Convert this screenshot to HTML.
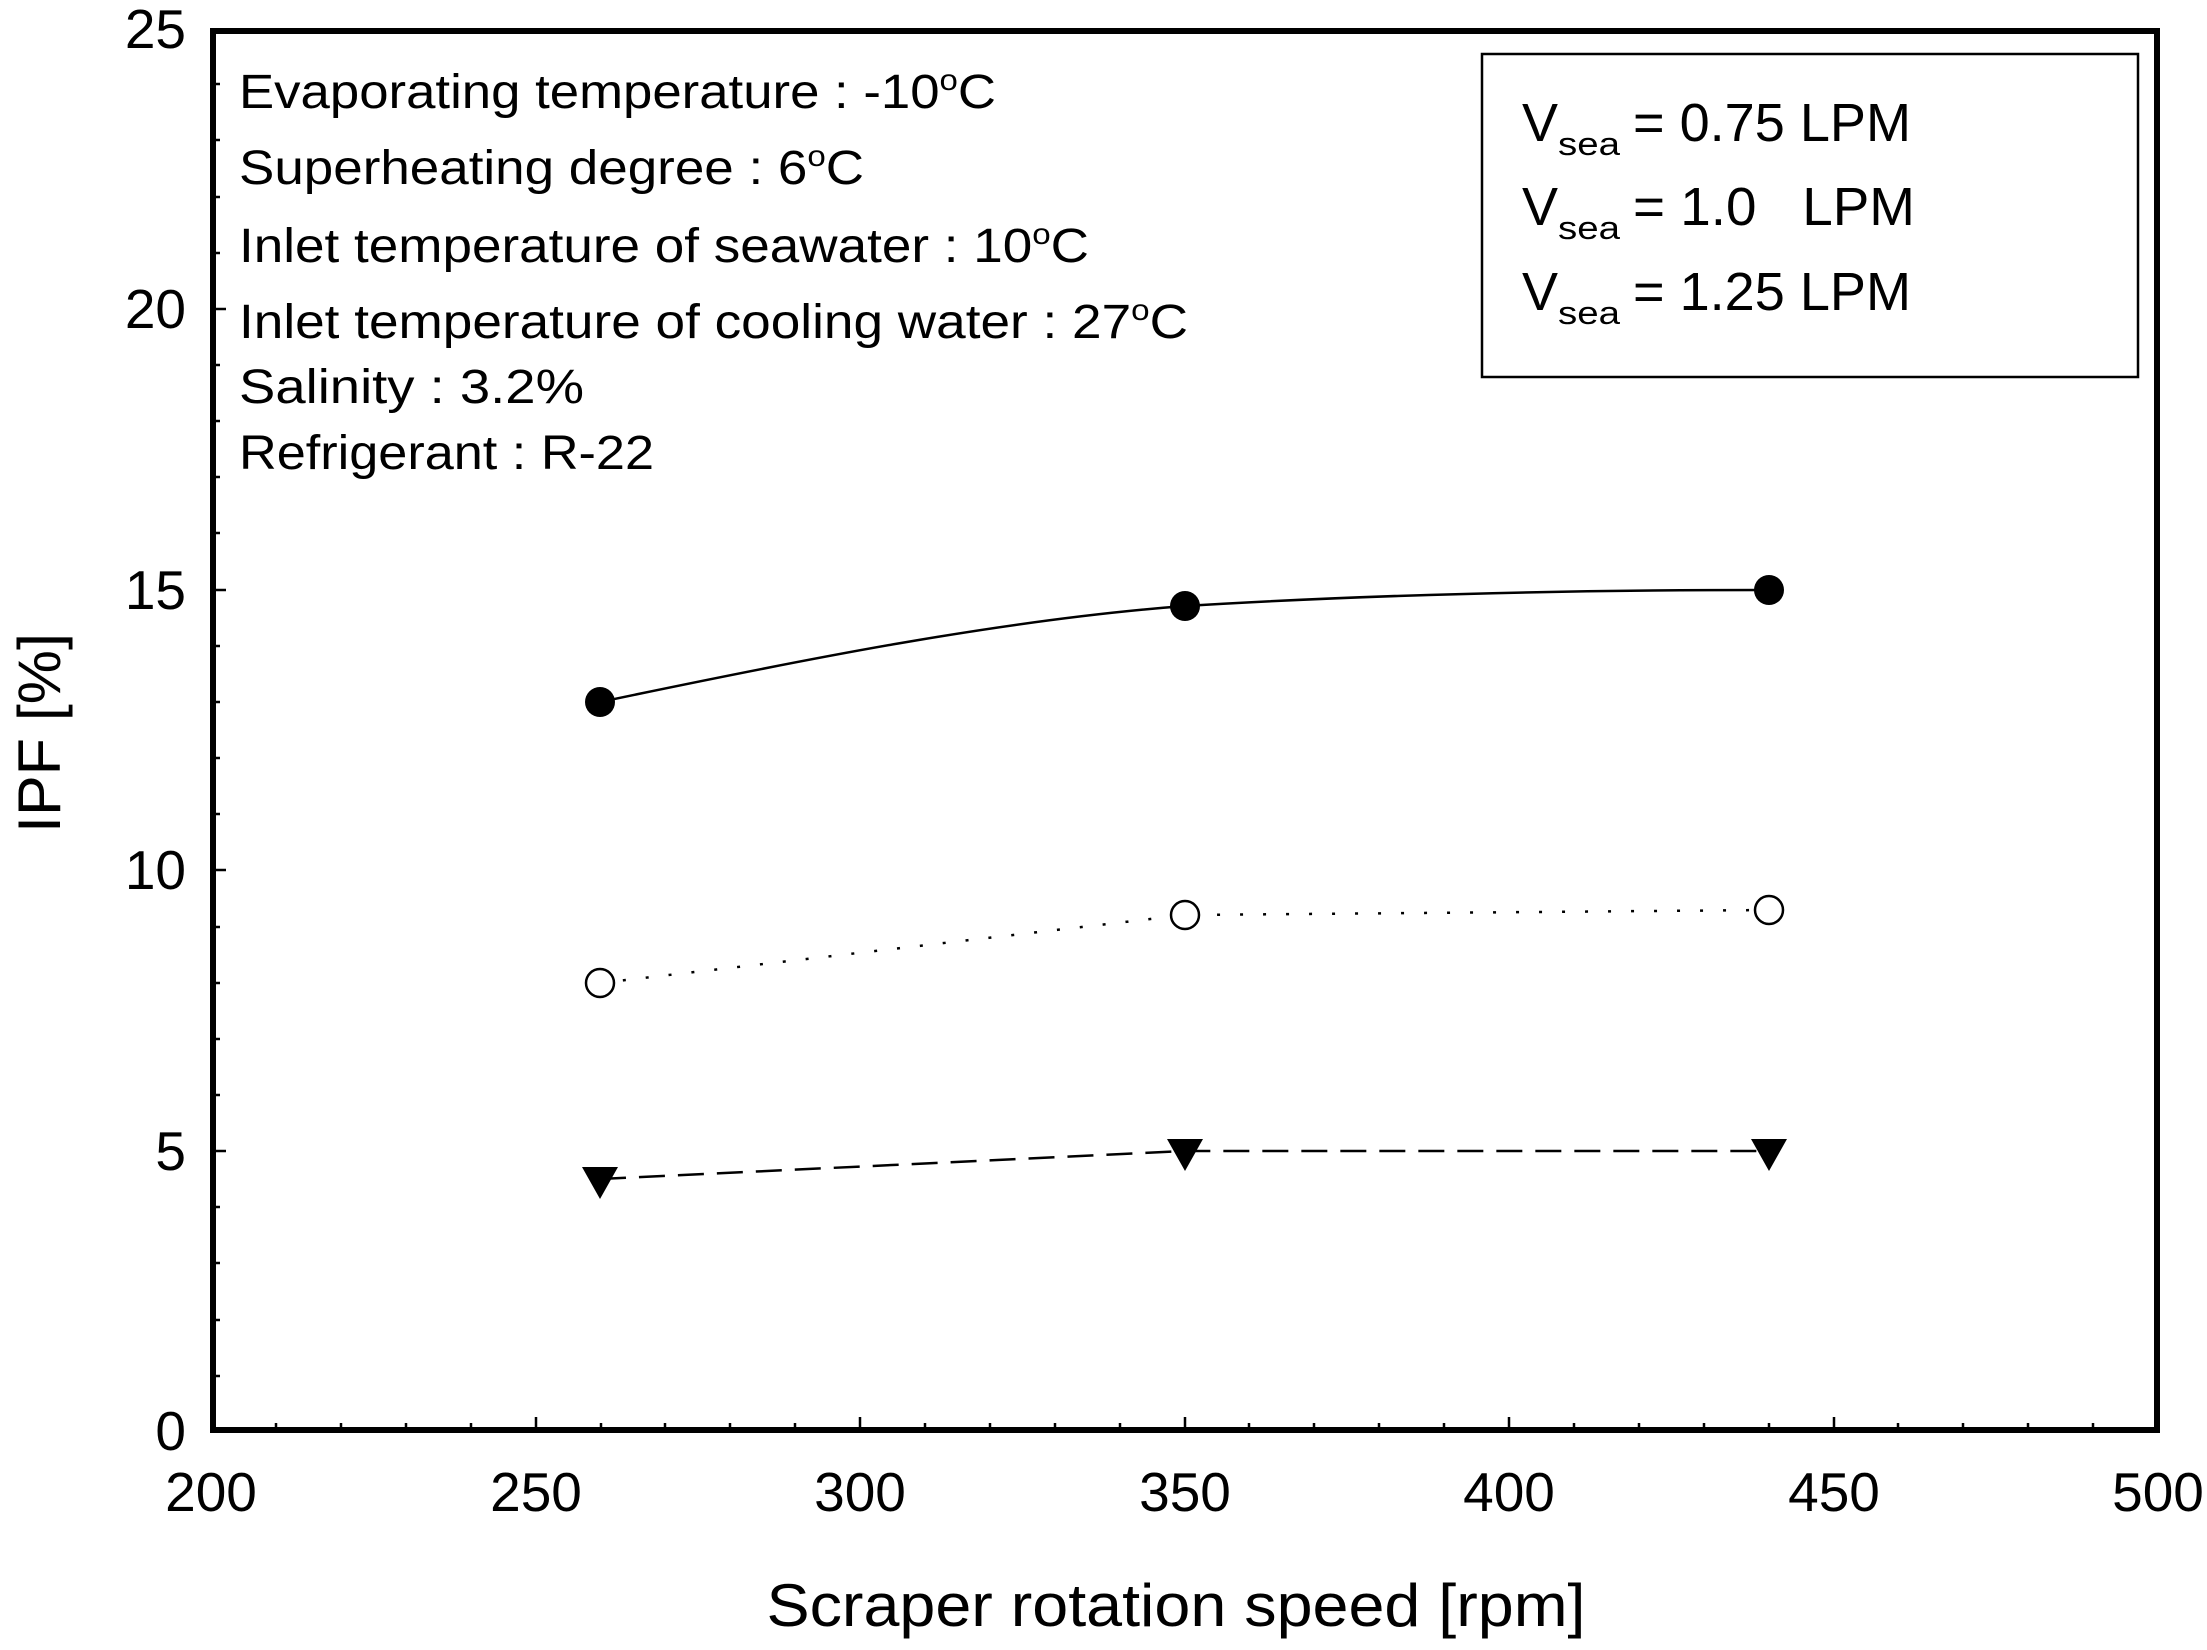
<!DOCTYPE html>
<html><head><meta charset="utf-8"><style>
html,body{margin:0;padding:0;background:#fff;}
svg{display:block;}
text{font-family:"Liberation Sans",sans-serif;fill:#000;}
</style></head><body>
<svg width="2207" height="1650" viewBox="0 0 2207 1650" xmlns="http://www.w3.org/2000/svg">
<rect width="2207" height="1650" fill="#fff"/>
<g stroke="#000" stroke-width="2.5">
<path d="M276,1430v-7M341,1430v-7M406,1430v-7M471,1430v-7M536,1430v-13M601,1430v-7M665,1430v-7M730,1430v-7M795,1430v-7M860,1430v-13M925,1430v-7M990,1430v-7M1055,1430v-7M1120,1430v-7M1185,1430v-13M1249,1430v-7M1314,1430v-7M1379,1430v-7M1444,1430v-7M1509,1430v-13M1574,1430v-7M1639,1430v-7M1704,1430v-7M1769,1430v-7M1834,1430v-13M1898,1430v-7M1963,1430v-7M2028,1430v-7M2093,1430v-7"/>
<path d="M213,1376h7M213,1320h7M213,1263h7M213,1207h7M213,1151h13M213,1095h7M213,1039h7M213,983h7M213,927h7M213,870h13M213,814h7M213,758h7M213,702h7M213,646h7M213,590h13M213,533h7M213,477h7M213,421h7M213,365h7M213,309h13M213,253h7M213,197h7M213,140h7M213,84h7"/>
</g>
<rect x="213" y="31" width="1944" height="1399" fill="none" stroke="#000" stroke-width="6"/>
<g font-size="55" text-anchor="end">
<text x="186" y="1450">0</text>
<text x="186" y="1170">5</text>
<text x="186" y="889">10</text>
<text x="186" y="609">15</text>
<text x="186" y="328">20</text>
<text x="186" y="48">25</text>
</g>
<g font-size="55" text-anchor="middle">
<text x="211" y="1511">200</text>
<text x="536" y="1511">250</text>
<text x="860" y="1511">300</text>
<text x="1185" y="1511">350</text>
<text x="1509" y="1511">400</text>
<text x="1834" y="1511">450</text>
<text x="2158" y="1511">500</text>
</g>
<text x="1176" y="1626" font-size="60" text-anchor="middle" textLength="819" lengthAdjust="spacingAndGlyphs">Scraper rotation speed [rpm]</text>
<text transform="translate(60,733) rotate(-90)" font-size="60" text-anchor="middle" textLength="200" lengthAdjust="spacingAndGlyphs">IPF [%]</text>
<g font-size="48">
<text x="239" y="108" textLength="757" lengthAdjust="spacingAndGlyphs">Evaporating temperature : -10<tspan dy="-18" font-size="30">o</tspan><tspan dy="18">C</tspan></text>
<text x="239" y="184" textLength="625" lengthAdjust="spacingAndGlyphs">Superheating degree : 6<tspan dy="-18" font-size="30">o</tspan><tspan dy="18">C</tspan></text>
<text x="239" y="262" textLength="850" lengthAdjust="spacingAndGlyphs">Inlet temperature of seawater : 10<tspan dy="-18" font-size="30">o</tspan><tspan dy="18">C</tspan></text>
<text x="239" y="338" textLength="949" lengthAdjust="spacingAndGlyphs">Inlet temperature of cooling water : 27<tspan dy="-18" font-size="30">o</tspan><tspan dy="18">C</tspan></text>
<text x="239" y="403" textLength="345" lengthAdjust="spacingAndGlyphs">Salinity : 3.2%</text>
<text x="239" y="469" textLength="415" lengthAdjust="spacingAndGlyphs">Refrigerant : R-22</text>
</g>
<rect x="1482" y="54" width="656" height="323" fill="none" stroke="#000" stroke-width="2.5"/>
<g font-size="54">
<text x="1522" y="141">V</text><text x="1558" y="155" font-size="32" textLength="62" lengthAdjust="spacingAndGlyphs">sea</text><text x="1633" y="141" textLength="278" lengthAdjust="spacingAndGlyphs">= 0.75 LPM</text>
<text x="1522" y="225">V</text><text x="1558" y="239" font-size="32" textLength="62" lengthAdjust="spacingAndGlyphs">sea</text><text x="1633" y="225" textLength="282" lengthAdjust="spacingAndGlyphs" xml:space="preserve">= 1.0   LPM</text>
<text x="1522" y="310">V</text><text x="1558" y="324" font-size="32" textLength="62" lengthAdjust="spacingAndGlyphs">sea</text><text x="1633" y="310" textLength="278" lengthAdjust="spacingAndGlyphs">= 1.25 LPM</text>
</g>
<path d="M600,702 C 800,660 1000,620 1185,606 C 1380,594 1575,590 1769,590" fill="none" stroke="#000" stroke-width="2.5"/>
<g fill="#000"><circle cx="600" cy="702" r="15"/><circle cx="1185" cy="606" r="15"/><circle cx="1769" cy="590" r="15"/></g>
<polyline points="600,983 1185,915 1769,910" fill="none" stroke="#000" stroke-width="2.5" stroke-dasharray="3 20"/>
<g fill="#fff" stroke="#000" stroke-width="2.5"><circle cx="600" cy="983" r="14"/><circle cx="1185" cy="915" r="14"/><circle cx="1769" cy="910" r="14"/></g>
<polyline points="600,1179 1185,1151 1769,1151" fill="none" stroke="#000" stroke-width="2.5" stroke-dasharray="26 13"/>
<g fill="#000">
<polygon points="582,1167 618,1167 600,1199"/>
<polygon points="1167,1139 1203,1139 1185,1171"/>
<polygon points="1751,1139 1787,1139 1769,1171"/>
</g>
</svg>
</body></html>
